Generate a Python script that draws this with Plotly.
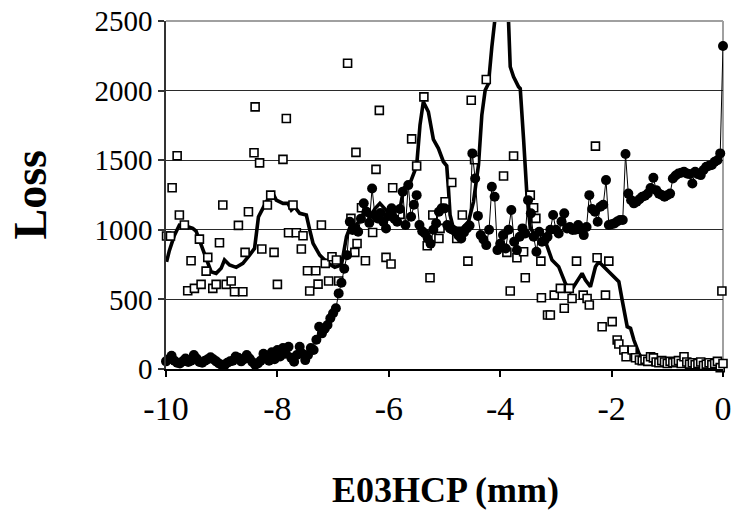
import plotly.graph_objects as go

# ---------------- data ----------------
# Series 1: filled circles joined by a thin line, sampled every 0.05 mm from -10 to 0
circle_y = [
    55, 70, 95, 60, 45, 40, 55, 75, 50, 60,
    100, 75, 50, 45, 60, 70, 85, 70, 55, 40,
    30, 25, 45, 55, 60, 90, 80, 55, 70, 100,
    75, 50, 30, 40, 60, 110,
    88, 60, 120, 70, 136, 90, 150, 110, 160, 80,
    52, 100, 160, 110, 64, 100, 150, 136, 210, 304,
    256, 290, 316, 364, 400, 436, 543, 620, 720, 818,
    1058, 998, 1010, 986, 1080, 1190, 1130, 1050, 1297, 1106,
    1082, 1120, 1058, 1010, 1100, 1154, 1080, 1058, 1150, 1273,
    1034, 1321, 1094, 1180, 1249, 1034, 990, 974, 938, 900,
    1000, 1046, 1130, 1154, 1154, 1034, 1010, 1000, 986, 960,
    938, 980, 1010, 1030, 1549, 1369, 1100, 962, 930, 890,
    1000, 1309, 1237, 854, 900, 962, 866, 1000, 1142, 914,
    854, 950, 1010, 974, 1213, 1118, 950, 842, 986, 914,
    926, 950, 1000, 1106, 1000, 974, 1060, 1118, 1010, 1020,
    998, 1000, 1034, 1000, 962, 1020, 1249, 1150, 1130, 1058,
    1165, 1180, 1357, 1034, 1040, 1046, 1060, 1070, 1070, 1544,
    1260, 1213, 1190, 1201, 1220, 1237, 1245, 1261, 1300, 1374,
    1285, 1260, 1250, 1237, 1249, 1260, 1369, 1390, 1405, 1410,
    1417, 1405, 1400, 1333, 1417, 1400, 1393, 1430, 1453, 1460,
    1465, 1489, 1500, 1549, 2320,
]
circle_x = [round(-10 + 0.05 * i, 2) for i in range(len(circle_y))]

# Series 2: open squares (no line)
square_x = [
    -9.99, -9.92, -9.89, -9.80, -9.76, -9.67, -9.61, -9.55, -9.49, -9.40,
    -9.37, -9.28, -9.25, -9.16, -9.10, -9.04, -8.98, -8.92, -8.83, -8.77,
    -8.70, -8.62, -8.58, -8.52, -8.42, -8.40, -8.32, -8.28, -8.18, -8.12,
    -8.06, -8.00, -7.90, -7.84, -7.80, -7.72, -7.66, -7.57, -7.54, -7.46,
    -7.42, -7.31, -7.27, -7.21, -7.14, -7.08, -7.02, -6.94, -6.90, -6.74,
    -6.68, -6.61, -6.59, -6.57, -6.49, -6.42, -6.29, -6.23, -6.17, -6.05,
    -5.96, -5.93, -5.80, -5.59, -5.50, -5.37, -5.31, -5.26, -5.21, -5.10,
    -5.08, -4.99, -4.87, -4.78, -4.68, -4.58, -4.52, -4.46, -4.25, -3.94,
    -3.88, -3.82, -3.76, -3.70, -3.58, -3.55, -3.46, -3.40, -3.36, -3.27,
    -3.26, -3.15, -3.10, -3.03, -2.92, -2.85, -2.76, -2.71, -2.63, -2.51,
    -2.44, -2.40, -2.29, -2.26, -2.17, -2.11, -2.05, -1.99, -1.90, -1.87,
    -1.78, -1.74, -1.63, -1.57, -1.50,
    -1.45, -1.40, -1.35, -1.30, -1.25, -1.20, -1.15, -1.10, -1.05, -1.00,
    -0.95, -0.90, -0.85, -0.80, -0.75, -0.70, -0.65, -0.60, -0.55, -0.50,
    -0.45, -0.40, -0.35, -0.30, -0.25, -0.20, -0.15, -0.10, -0.05, -0.02, 0.0,
]
square_y = [
    955, 955, 1302, 1532, 1106, 1034, 562, 778, 579, 933,
    608, 703, 802, 579, 608, 907, 1178, 608, 632, 555,
    1032, 555, 838, 1130, 1553, 1883, 1481, 862, 1178, 1249,
    838, 608, 1506, 1800, 979, 1178, 979, 862, 957, 706,
    560, 706, 610, 1034, 759, 632, 806, 783, 632, 2197,
    1082, 838, 1556, 902, 1158, 778, 981, 1434, 1858, 802,
    754, 1302, 1111, 1653, 1458, 1955, 885, 656, 1106, 938,
    1010, 1201, 1340, 938, 1106, 775, 1931, 1503, 2080, 1386,
    838, 560, 1530, 799, 842, 656, 1249, 1158, 1082, 775,
    512, 388, 388, 531, 579, 436, 579, 507, 775, 531,
    507, 460, 1601, 799, 304, 531, 775, 340, 208, 180,
    136, 88, 136, 81, 65,
    60, 70, 55, 88, 80, 50, 45, 60, 50, 40,
    55, 45, 50, 60, 40, 88, 50, 35, 45, 30,
    40, 50, 25, 35, 45, 30, 40, 55, 10, 560, 40,
]

# Series 3: thick line (no markers)
thick_x = [
    -9.99, -9.94, -9.85, -9.76, -9.67, -9.58, -9.52, -9.46, -9.40, -9.34,
    -9.28, -9.24, -9.19, -9.10, -9.01, -8.95, -8.86, -8.74, -8.62, -8.50,
    -8.41, -8.34, -8.20, -8.08, -8.02, -7.90, -7.81, -7.75, -7.69, -7.60,
    -7.48, -7.42, -7.36, -7.24, -7.09, -6.97, -6.85, -6.76, -6.67, -6.59,
    -6.52, -6.43, -6.34, -6.25, -6.16, -6.07, -5.98, -5.89, -5.80, -5.73,
    -5.62, -5.50, -5.44, -5.38, -5.29, -5.20, -5.11, -5.02, -4.96, -4.93,
    -4.90, -4.84, -4.69, -4.57, -4.48, -4.39, -4.33, -4.27, -4.21, -4.15,
    -4.10, -4.00, -3.85, -3.82, -3.76, -3.67, -3.64, -3.58, -3.52, -3.46,
    -3.37, -3.25, -3.16, -3.07, -2.95, -2.83, -2.74, -2.65, -2.53, -2.47,
    -2.38, -2.29, -2.23, -2.14, -2.02, -1.87, -1.81, -1.72, -1.66, -1.60,
    -1.51, -1.45, -1.30, -1.12, -0.94, -0.76, -0.58, -0.40, -0.22, -0.01,
]
thick_y = [
    770, 850, 960, 1034, 1030, 1022, 1010, 990, 926, 870,
    806, 750, 699, 687, 723, 783, 747, 730, 759, 818,
    866, 1093, 1201, 1261, 1213, 1190, 1190, 1142, 1165, 1118,
    1106, 1000, 902, 818, 759, 730, 747, 950, 1046, 1030,
    1070, 1120, 1090, 1150, 1190, 1154, 1110, 1120, 1150, 1300,
    1333, 1460, 1752, 1920, 1848, 1650, 1585, 1489, 1460, 1300,
    1106, 1010, 1010, 1058, 1201, 1465, 1824, 2003, 2051, 2314,
    2494, 3400, 2494, 2171, 2099, 2027, 2015, 1650, 1250, 1010,
    962, 986, 878, 783, 735, 615, 555, 615, 687, 639,
    591, 735, 770, 735, 687, 627, 495, 304, 292, 208,
    113, 70, 55, 50, 45, 50, 40, 45, 40, 35,
]

x_tick_vals = [-10, -8, -6, -4, -2, 0]
x_tick_text = ["-10", "-8", "-6", "-4", "-2", "0"]
y_tick_vals = [0, 500, 1000, 1500, 2000, 2500]
y_tick_text = ["0", "500", "1000", "1500", "2000", "2500"]

x_title = "E03HCP (mm)"
y_title = "Loss"

# ---------------- figure ----------------
FONT = "Times New Roman, Liberation Serif, serif"

fig = go.Figure()

fig.add_trace(go.Scatter(
    x=thick_x, y=thick_y, mode="lines",
    line=dict(color="black", width=3.6),
    hoverinfo="skip",
))
fig.add_trace(go.Scatter(
    x=square_x, y=square_y, mode="markers",
    marker=dict(symbol="square", size=8, color="white",
                line=dict(color="black", width=1.6)),
    cliponaxis=False,
))
fig.add_trace(go.Scatter(
    x=circle_x, y=circle_y, mode="lines+markers",
    line=dict(color="black", width=1),
    marker=dict(symbol="circle", size=10, color="black"),
    cliponaxis=False,
))

fig.update_layout(
    width=734, height=523,
    margin=dict(l=166, r=11, t=21, b=154),
    paper_bgcolor="white", plot_bgcolor="white",
    showlegend=False,
    font=dict(family=FONT, color="black"),
    xaxis=dict(
        range=[-10, 0], tickmode="array", tickvals=x_tick_vals, ticktext=x_tick_text,
        showgrid=False, zeroline=False, showline=True, linecolor="black", linewidth=1.5,
        ticks="outside", ticklen=6, tickwidth=1.5, tickcolor="black",
        tickfont=dict(family=FONT, size=34, color="black"),
        ticklabelstandoff=2, automargin=False, ticklabeloverflow="allow",
    ),
    yaxis=dict(
        range=[0, 2500], tickmode="array", tickvals=y_tick_vals, ticktext=y_tick_text,
        showgrid=True, gridcolor="#2a2a2a", gridwidth=1,
        zeroline=False, showline=True, linecolor="#333333", linewidth=1.5,
        ticks="outside", ticklen=6, tickwidth=1.5, tickcolor="#333333",
        tickfont=dict(family=FONT, size=29, color="black"),
        ticklabelstandoff=0, automargin=False, ticklabeloverflow="allow",
    ),
    shapes=[
        dict(type="line", xref="paper", yref="paper", x0=0, x1=1, y0=1, y1=1,
             line=dict(color="#a0a0a0", width=2), layer="above"),
        dict(type="line", xref="paper", yref="paper", x0=1, x1=1, y0=0, y1=1,
             line=dict(color="#a0a0a0", width=2), layer="below"),
    ],
    annotations=[
        dict(text="<b>" + y_title + "</b>", xref="paper", yref="paper",
             x=-0.245, y=0.5, xanchor="center", yanchor="middle",
             textangle=-90, showarrow=False,
             font=dict(family=FONT, size=46, color="black")),
        dict(text="<b>" + x_title + "</b>", xref="paper", yref="paper",
             x=0.501, y=-0.348, xanchor="center", yanchor="middle",
             showarrow=False,
             font=dict(family=FONT, size=36, color="black")),
    ],
)

# remove the default page margin so the figure fills the 734x523 window exactly
fig.write_html(
    "out.html",
    config={"displayModeBar": False},
    post_script="document.body.style.margin='0';document.body.style.overflow='hidden';",
)
